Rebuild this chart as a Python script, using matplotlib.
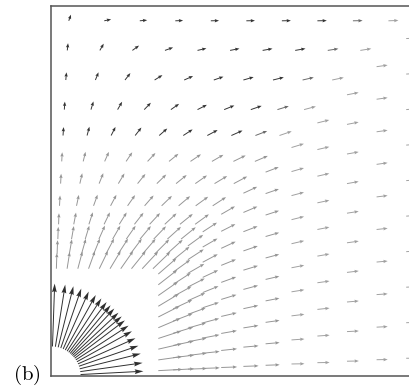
import numpy as np
import matplotlib
matplotlib.use("Agg")
import matplotlib.pyplot as plt

plt.rcParams['mathtext.fontset'] = 'cm'

# where each mesh ray meets the outer boundary (right side, then top side)
edge_right = [0.05, 0.15, 0.25, 0.35, 0.45, 0.55, 0.65, 0.75, 0.85, 0.95]
edge_top = [0.95, 0.85, 0.75, 0.65, 0.55, 0.45, 0.35, 0.25, 0.15, 0.05]

# fraction of the way from the corner to the boundary for each node row
stations = [0.08, 0.29, 0.33, 0.37, 0.41, 0.46, 0.52, 0.58, 0.65, 0.72, 0.80, 0.88, 0.96]

# arrow length per node row (axis units) and per-ray gain
station_len = [0.17, 0.065, 0.057, 0.051, 0.046, 0.043, 0.041, 0.038, 0.035,
               0.033, 0.032, 0.030, 0.027]
ray_gain = [1.0, 1.0, 1.0, 1.0, 1.0, 1.0, 1.0, 1.0, 1.0, 1.0,
            1.0, 0.97, 0.94, 0.90, 0.86, 0.82, 0.78, 0.74, 0.70, 0.65]

# arrow direction in degrees, one row per station, one column per ray
arrow_dir = [
    [3, 8, 14, 19, 24, 29, 33, 37, 40, 43, 47, 50, 53, 57, 61, 66, 71, 76, 81, 88],
    [3, 8, 13, 18, 23, 27, 31, 35, 38, 41, 44, 47, 51, 55, 59, 64, 70, 75, 81, 88],
    [3, 7, 12, 17, 21, 25, 29, 33, 36, 39, 42, 45, 49, 53, 57, 62, 68, 74, 80, 88],
    [2, 7, 11, 16, 20, 24, 27, 30, 33, 36, 39, 42, 46, 50, 55, 60, 66, 73, 80, 88],
    [2, 6, 11, 15, 18, 22, 25, 28, 30, 33, 36, 39, 43, 47, 52, 58, 64, 72, 79, 88],
    [2, 6, 10, 13, 17, 20, 22, 25, 27, 30, 33, 36, 40, 44, 49, 55, 62, 70, 78, 87],
    [2, 5, 9, 12, 15, 17, 19, 21, 23, 25, 28, 31, 35, 39, 44, 51, 59, 68, 77, 87],
    [2, 5, 8, 11, 13, 15, 16, 18, 19, 21, 23, 26, 30, 34, 39, 47, 56, 66, 76, 87],
    [1, 4, 7, 9, 11, 13, 14, 15, 16, 17, 19, 21, 24, 28, 33, 41, 52, 63, 75, 86],
    [1, 4, 6, 8, 10, 11, 12, 13, 13, 14, 15, 17, 19, 22, 27, 35, 46, 60, 73, 86],
    [1, 3, 5, 7, 8, 9, 10, 10, 11, 11, 12, 13, 14, 16, 19, 24, 32, 52, 68, 85],
    [1, 3, 4, 5, 6, 7, 8, 8, 8, 8, 9, 9, 10, 10, 11, 13, 20, 36, 60, 84],
    [0, 2, 3, 4, 5, 5, 5, 5, 4, 3, 2, 1, 1, 1, 1, 1, 2, 5, 12, 70],
]

# outer-row shade per ray (dark in the upper left)
ray_shade = ['#a0a0a0'] * 11 + ['#6a6a6a'] + ['#333333'] * 8

rays = [(1.0, h) for h in edge_right] + [(x, 1.0) for x in edge_top]

fig = plt.figure(figsize=(4.09, 3.91), dpi=100)
ax = fig.add_axes([51 / 409, 15 / 391, 370 / 409, 370 / 391])

big_x, big_y, big_u, big_v = [], [], [], []
mid = {'x': [], 'y': [], 'u': [], 'v': [], 'c': []}
for i, s in enumerate(stations):
    for j, (bx, by) in enumerate(rays):
        ang = np.deg2rad(arrow_dir[i][j])
        if i == 0:
            # innermost row sits on a circle round the corner
            norm = np.hypot(bx, by)
            ln = station_len[i]
            big_x.append(s * bx / norm)
            big_y.append(s * by / norm)
            big_u.append(ln * np.cos(ang))
            big_v.append(ln * np.sin(ang))
            continue
        ln = station_len[i] * ray_gain[j]
        mid['x'].append(s * bx)
        mid['y'].append(s * by)
        mid['u'].append(ln * np.cos(ang))
        mid['v'].append(ln * np.sin(ang))
        mid['c'].append('#959595' if i < 8 else ray_shade[j])

ax.quiver(mid['x'], mid['y'], mid['u'], mid['v'], color=mid['c'],
          angles='xy', scale_units='xy', scale=1, width=0.0026,
          headwidth=3.5, headlength=4.5, headaxislength=4)
ax.quiver(big_x, big_y, big_u, big_v, color='#2e2e2e',
          angles='xy', scale_units='xy', scale=1, width=0.0026,
          headwidth=5, headlength=9, headaxislength=8)

ax.set_xlim(0, 1)
ax.set_ylim(0, 1)
ax.set_xticks([])
ax.set_yticks([])
for sp in ax.spines.values():
    sp.set_color('#555555')
    sp.set_linewidth(1.1)

fig.text(27 / 409, 1 - 375 / 391, r'$\mathrm{(b)}$', fontsize=15,
         ha='center', va='center')

fig.savefig('out.png', dpi=100)
